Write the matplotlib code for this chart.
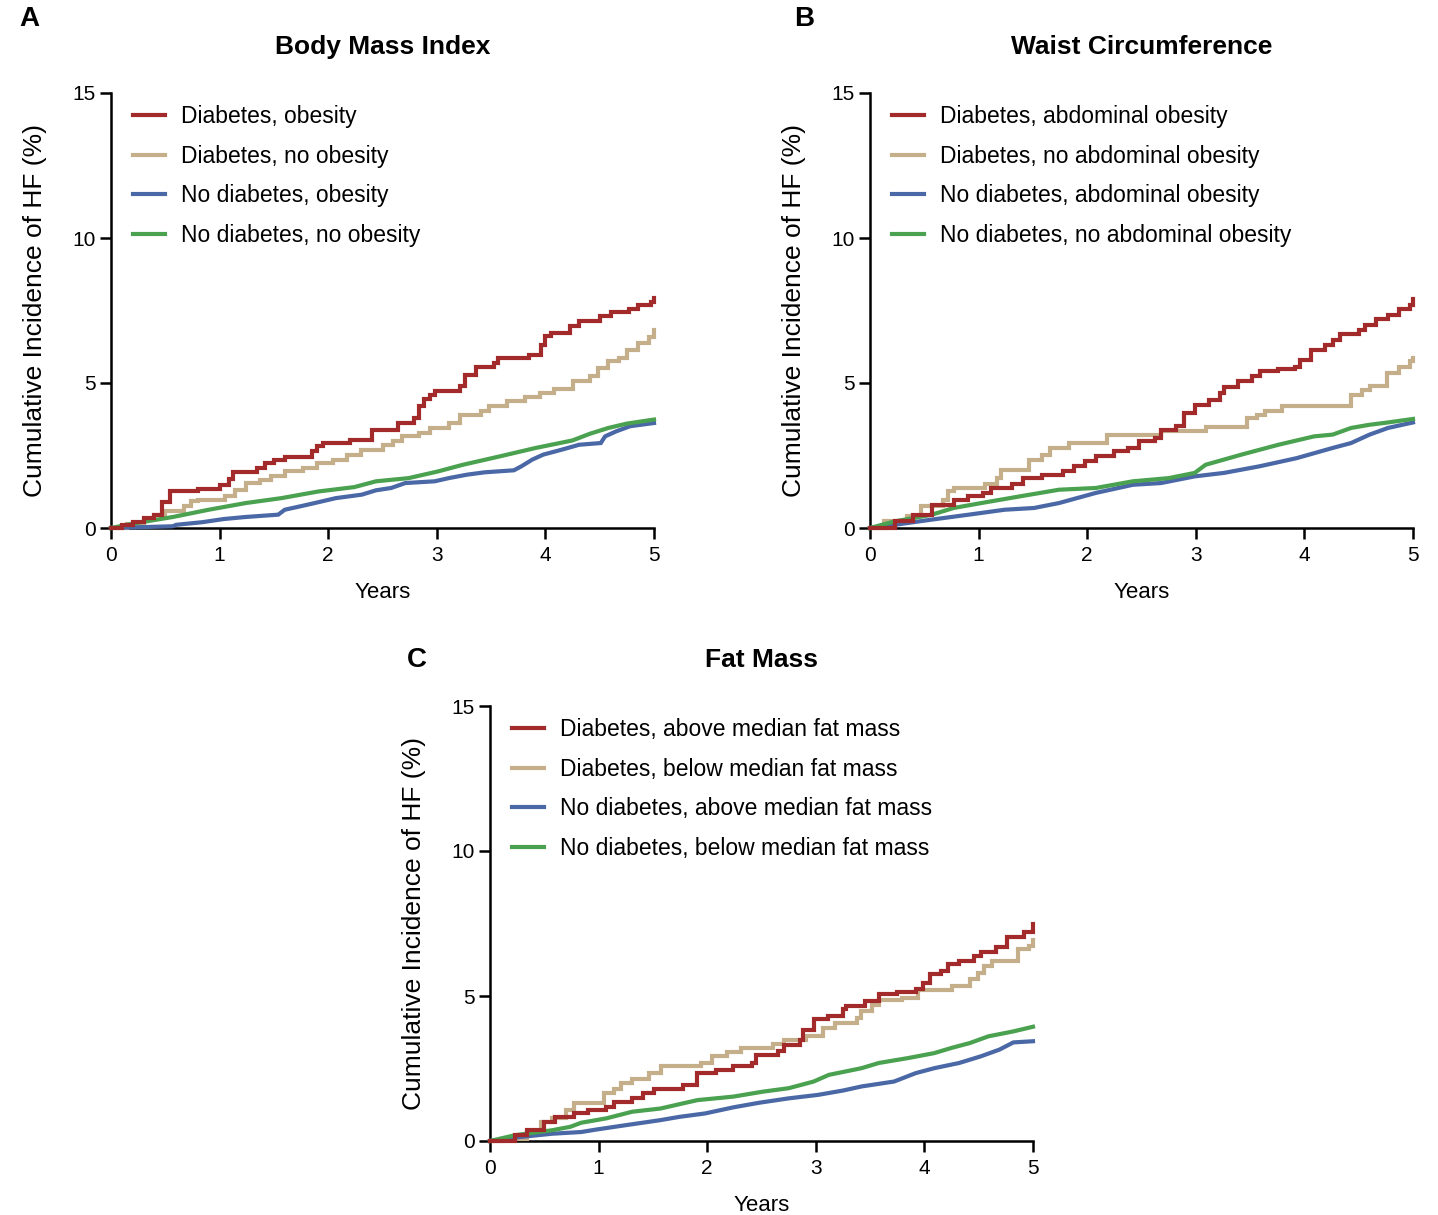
import matplotlib
matplotlib.use("Agg")
import matplotlib.pyplot as plt

plt.rcParams['font.family'] = ['Liberation Sans', 'DejaVu Sans']

# ---- Panel A: Body Mass Index ----
a_red_t = [0, 0.1, 0.2, 0.3, 0.4, 0.47, 0.54, 0.80, 1.0, 1.09, 1.12, 1.34, 1.42, 1.5, 1.6, 1.85, 1.9, 1.95,
           2.2, 2.4, 2.64, 2.79, 2.84, 2.88, 2.94, 2.98, 3.21, 3.26, 3.36, 3.53, 3.56, 3.85, 3.96, 4.0,
           4.05, 4.23, 4.31, 4.5, 4.6, 4.77, 4.85, 4.97, 5.0]
a_red_v = [0, 0.1, 0.2, 0.35, 0.46, 0.9, 1.26, 1.36, 1.47, 1.7, 1.92, 2.07, 2.24, 2.36, 2.44, 2.65, 2.82, 2.93,
           3.05, 3.39, 3.62, 3.8, 4.2, 4.45, 4.6, 4.71, 4.88, 5.29, 5.55, 5.7, 5.86, 5.98, 6.3, 6.61,
           6.72, 6.95, 7.13, 7.3, 7.45, 7.55, 7.7, 7.8, 7.93]
a_tan_t = [0, 0.15, 0.3, 0.4, 0.5, 0.67, 0.74, 0.8, 1.05, 1.14, 1.24, 1.37, 1.47, 1.6, 1.77, 1.9, 2.04, 2.17,
           2.3, 2.5, 2.6, 2.68, 2.84, 2.94, 3.11, 3.21, 3.41, 3.48, 3.65, 3.81, 3.95, 4.08, 4.25, 4.41,
           4.48, 4.58, 4.68, 4.75, 4.85, 4.95, 5.0]
a_tan_v = [0, 0.15, 0.3, 0.46, 0.57, 0.75, 0.92, 0.98, 1.09, 1.32, 1.55, 1.67, 1.78, 1.95, 2.07, 2.24, 2.36, 2.53,
           2.68, 2.87, 3.0, 3.16, 3.28, 3.45, 3.62, 3.91, 4.02, 4.22, 4.37, 4.52, 4.66, 4.79, 5.06, 5.23,
           5.52, 5.75, 5.86, 6.15, 6.38, 6.6, 6.82]
a_blue_t = [0, 0.57, 0.6, 0.84, 1.04, 1.24, 1.54, 1.6, 1.77, 1.91, 2.07, 2.31, 2.44, 2.58, 2.71, 2.98, 3.11,
            3.28, 3.44, 3.71, 3.78, 3.88, 3.98, 4.15, 4.31, 4.51, 4.55, 4.65, 4.78, 5.0]
a_blue_v = [0, 0.06, 0.11, 0.2, 0.31, 0.38, 0.46, 0.63, 0.77, 0.89, 1.03, 1.15, 1.3, 1.38, 1.55, 1.61, 1.72,
            1.84, 1.92, 1.99, 2.13, 2.36, 2.53, 2.7, 2.87, 2.93, 3.16, 3.33, 3.51, 3.62]
a_green_t = [0, 0.23, 0.57, 0.9, 1.24, 1.57, 1.91, 2.24, 2.44, 2.74, 3.01, 3.24, 3.58, 3.91, 4.25, 4.41,
             4.58, 4.75, 5.0]
a_green_v = [0, 0.17, 0.38, 0.63, 0.86, 1.03, 1.26, 1.41, 1.61, 1.72, 1.95, 2.18, 2.47, 2.76, 3.02, 3.25,
             3.45, 3.6, 3.74]

# ---- Panel B: Waist Circumference ----
b_red_t = [0, 0.23, 0.4, 0.57, 0.77, 0.9, 1.04, 1.11, 1.31, 1.41, 1.58, 1.78, 1.88, 1.98, 2.08, 2.25, 2.38,
           2.48, 2.62, 2.68, 2.82, 2.89, 2.99, 3.12, 3.22, 3.26, 3.39, 3.52, 3.59, 3.76, 3.91, 3.96, 4.06,
           4.19, 4.26, 4.33, 4.5, 4.56, 4.66, 4.77, 4.87, 4.97, 5.0]
b_red_v = [0, 0.23, 0.46, 0.8, 0.95, 1.09, 1.21, 1.38, 1.53, 1.72, 1.84, 1.95, 2.13, 2.3, 2.47, 2.64, 2.76,
           3.01, 3.1, 3.39, 3.51, 3.97, 4.25, 4.43, 4.66, 4.86, 5.06, 5.23, 5.4, 5.48, 5.55, 5.8, 6.15,
           6.32, 6.49, 6.7, 6.84, 7.01, 7.21, 7.36, 7.55, 7.7, 7.9]
b_tan_t = [0, 0.13, 0.34, 0.47, 0.67, 0.72, 0.77, 1.06, 1.17, 1.21, 1.46, 1.58, 1.66, 1.83, 2.18, 2.68, 3.09,
           3.47, 3.56, 3.64, 3.79, 4.43, 4.53, 4.6, 4.76, 4.87, 4.97, 5.0]
b_tan_v = [0, 0.23, 0.4, 0.75, 0.98, 1.26, 1.38, 1.53, 1.72, 2.01, 2.36, 2.53, 2.76, 2.93, 3.22, 3.33, 3.48,
           3.79, 3.91, 4.02, 4.2, 4.6, 4.77, 4.89, 5.34, 5.55, 5.75, 5.86]
b_blue_t = [0, 0.23, 0.57, 0.91, 1.24, 1.51, 1.74, 2.08, 2.42, 2.68, 2.99, 3.26, 3.59, 3.93, 4.26, 4.43,
            4.6, 4.77, 5.0]
b_blue_v = [0, 0.11, 0.29, 0.46, 0.63, 0.69, 0.86, 1.21, 1.49, 1.55, 1.78, 1.9, 2.13, 2.41, 2.76, 2.93,
            3.22, 3.45, 3.64]
b_green_t = [0, 0.23, 0.57, 0.77, 1.07, 1.41, 1.74, 2.08, 2.42, 2.75, 2.99, 3.09, 3.42, 3.76, 4.09, 4.26,
             4.43, 4.6, 4.77, 5.0]
b_green_v = [0, 0.23, 0.46, 0.69, 0.89, 1.11, 1.32, 1.38, 1.61, 1.72, 1.9, 2.18, 2.53, 2.87, 3.16, 3.22,
             3.45, 3.56, 3.64, 3.76]

# ---- Panel C: Fat Mass ----
c_red_t = [0, 0.23, 0.34, 0.5, 0.6, 0.77, 0.9, 1.07, 1.14, 1.31, 1.41, 1.51, 1.78, 1.91, 2.08, 2.24, 2.41,
           2.45, 2.65, 2.71, 2.85, 2.88, 2.98, 3.11, 3.25, 3.28, 3.45, 3.58, 3.75, 3.92, 3.99, 4.05, 4.15,
           4.22, 4.32, 4.46, 4.52, 4.66, 4.76, 4.92, 5.0]
c_red_v = [0, 0.2, 0.37, 0.66, 0.83, 0.95, 1.06, 1.18, 1.35, 1.47, 1.64, 1.78, 1.93, 2.34, 2.45, 2.57, 2.69,
           2.97, 3.09, 3.32, 3.5, 3.84, 4.19, 4.31, 4.54, 4.65, 4.83, 5.06, 5.14, 5.23, 5.46, 5.75, 5.87,
           6.1, 6.22, 6.39, 6.53, 6.68, 7.03, 7.2, 7.49]
c_tan_t = [0, 0.1, 0.34, 0.47, 0.57, 0.7, 0.77, 1.05, 1.14, 1.21, 1.31, 1.46, 1.57, 1.94, 2.04, 2.18, 2.31,
           2.61, 2.71, 2.91, 3.07, 3.18, 3.38, 3.42, 3.52, 3.58, 3.79, 3.94, 4.25, 4.42, 4.49, 4.55, 4.62,
           4.86, 4.96, 5.0]
c_tan_v = [0, 0.08, 0.25, 0.66, 0.78, 1.06, 1.32, 1.64, 1.78, 1.99, 2.13, 2.36, 2.57, 2.69, 2.92, 3.06, 3.21,
           3.36, 3.47, 3.61, 3.9, 4.07, 4.25, 4.48, 4.68, 4.86, 4.94, 5.21, 5.35, 5.58, 5.81, 6.04, 6.22,
           6.62, 6.74, 6.94]
c_blue_t = [0, 0.23, 0.57, 0.84, 0.97, 1.24, 1.57, 1.74, 1.98, 2.24, 2.48, 2.75, 3.02, 3.25, 3.42, 3.72,
            3.92, 4.09, 4.32, 4.52, 4.69, 4.82, 5.0]
c_blue_v = [0, 0.12, 0.25, 0.31, 0.39, 0.54, 0.72, 0.83, 0.95, 1.16, 1.32, 1.47, 1.59, 1.74, 1.88, 2.05,
            2.34, 2.51, 2.69, 2.92, 3.15, 3.4, 3.44]
c_green_t = [0, 0.23, 0.57, 0.74, 0.84, 1.07, 1.31, 1.57, 1.78, 1.91, 2.24, 2.51, 2.75, 2.98, 3.12, 3.42,
             3.58, 3.85, 4.09, 4.25, 4.42, 4.59, 4.82, 5.0]
c_green_v = [0, 0.2, 0.37, 0.49, 0.63, 0.78, 1.01, 1.12, 1.3, 1.41, 1.53, 1.7, 1.82, 2.05, 2.28, 2.51,
             2.69, 2.86, 3.03, 3.21, 3.38, 3.61, 3.78, 3.94]

a_labels = ["Diabetes, obesity", "Diabetes, no obesity", "No diabetes, obesity", "No diabetes, no obesity"]
b_labels = ["Diabetes, abdominal obesity", "Diabetes, no abdominal obesity",
            "No diabetes, abdominal obesity", "No diabetes, no abdominal obesity"]
c_labels = ["Diabetes, above median fat mass", "Diabetes, below median fat mass",
            "No diabetes, above median fat mass", "No diabetes, below median fat mass"]

year_ticks = [0, 1, 2, 3, 4, 5]
pct_ticks = [0, 5, 10, 15]

RED = "#a32a2b"
TAN = "#c5af8b"
BLUE = "#4a68a6"
GREEN = "#4aa14f"

W, H = 1438, 1215
fig = plt.figure(figsize=(W / 100, H / 100), dpi=100)


def px_axes(x0, y_top, x1, y_bot):
    return fig.add_axes([x0 / W, 1 - y_bot / H, (x1 - x0) / W, (y_bot - y_top) / H])


def draw_panel(ax, title, letter, letter_xy, curves, labels):
    lines = []
    # red and tan curves are drawn as steps, blue and green are fine enough to draw straight
    for (t, v, color, stepped), lab in zip(curves, labels):
        ln, = ax.plot(t, v, color=color, lw=3.0, drawstyle="steps-post" if stepped else "default",
                      clip_on=False, label=lab, solid_joinstyle="miter")
        lines.append(ln)
    lines[0].set_zorder(3.4)
    lines[1].set_zorder(3.1)
    lines[2].set_zorder(3.2)
    lines[3].set_zorder(3.3)

    ax.set_xlim(0, 5)
    ax.set_ylim(0, 15)
    ax.set_xticks(year_ticks)
    ax.set_yticks(pct_ticks)
    for s in ("top", "right"):
        ax.spines[s].set_visible(False)
    for s in ("left", "bottom"):
        ax.spines[s].set_linewidth(1.8)
    ax.tick_params(width=1.8, length=8, labelsize=15, color="black")
    ax.tick_params(axis="x", pad=5)
    ax.tick_params(axis="y", pad=3)
    ax.set_xlabel("Years", fontsize=16)
    ax.xaxis.set_label_coords(0.5, -0.125)
    ax.set_ylabel("Cumulative Incidence of HF (%)", fontsize=19)
    ax.yaxis.set_label_coords(-0.118, 0.5)
    ax.text(0.5, 1.106, title, transform=ax.transAxes, ha="center", va="center",
            fontsize=19, fontweight="bold")
    fig.text(letter_xy[0] / W, 1 - letter_xy[1] / H, letter, fontsize=20, fontweight="bold",
             ha="left", va="center")

    ax.legend(handles=lines, loc="upper left", bbox_to_anchor=(0.04, 0.972), frameon=False,
              fontsize=16.5, handlelength=1.4, handletextpad=0.7, labelspacing=0.72,
              borderpad=0, borderaxespad=0)


ax_a = px_axes(111, 93, 654, 528)
draw_panel(ax_a, "Body Mass Index", "A", (19, 19),
           [(a_red_t, a_red_v, RED, True), (a_tan_t, a_tan_v, TAN, True),
            (a_blue_t, a_blue_v, BLUE, False), (a_green_t, a_green_v, GREEN, False)], a_labels)

ax_b = px_axes(870, 93, 1413, 528)
draw_panel(ax_b, "Waist Circumference", "B", (794, 19),
           [(b_red_t, b_red_v, RED, True), (b_tan_t, b_tan_v, TAN, True),
            (b_blue_t, b_blue_v, BLUE, False), (b_green_t, b_green_v, GREEN, False)], b_labels)

ax_c = px_axes(490, 706, 1033, 1141)
draw_panel(ax_c, "Fat Mass", "C", (407, 660),
           [(c_red_t, c_red_v, RED, True), (c_tan_t, c_tan_v, TAN, True),
            (c_blue_t, c_blue_v, BLUE, False), (c_green_t, c_green_v, GREEN, False)], c_labels)

fig.savefig("out.png", dpi=100, facecolor="white")
